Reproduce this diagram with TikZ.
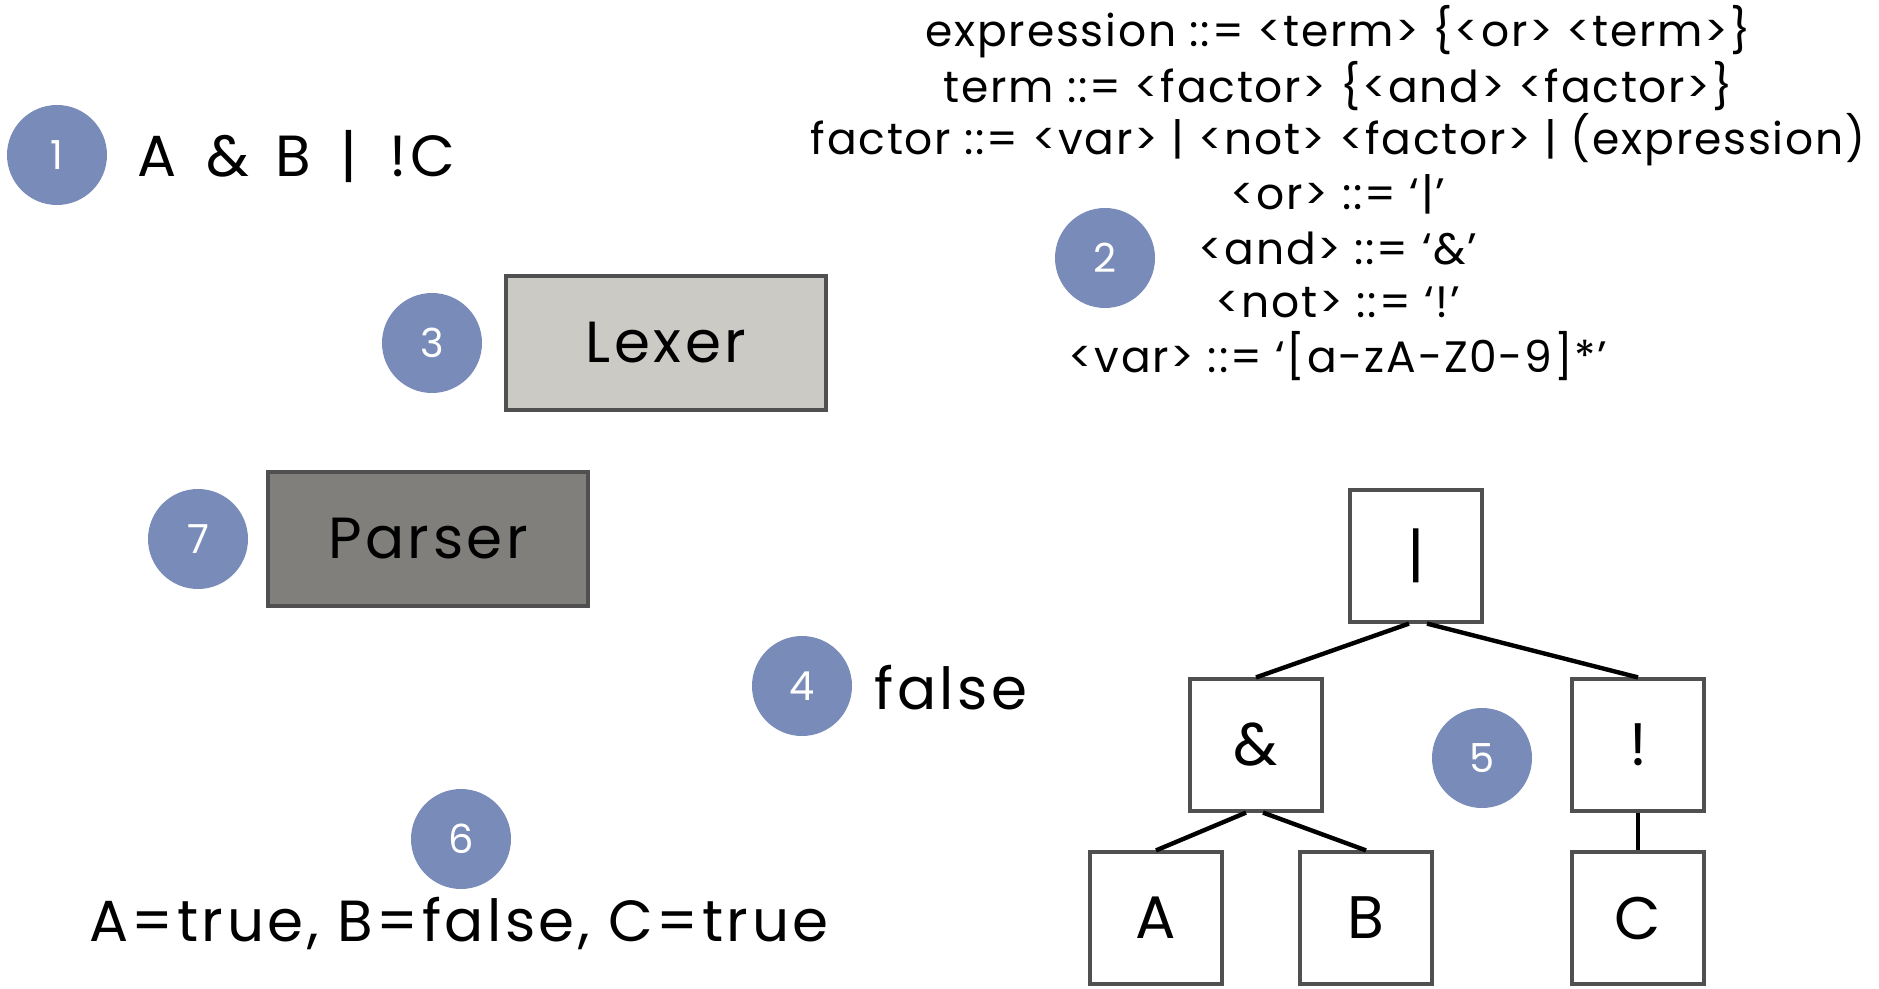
\documentclass[tikz,border=0pt]{standalone}
\usepackage{fontspec}
\setmainfont{Poppins}
\newfontfamily\handfont[LetterSpace=6]{Poppins}
\newfontfamily\bnffont[LetterSpace=4]{Poppins}
\definecolor{numblue}{RGB}{121,139,184}
\definecolor{boxedge}{RGB}{80,80,80}
\definecolor{lexfill}{RGB}{204,202,197}
\definecolor{parsefill}{RGB}{128,127,124}
\begin{document}
\begin{tikzpicture}[x=0.5pt,y=-0.5pt,
  num/.style={circle, fill=numblue, text=white, minimum size=50pt, inner sep=0pt, font=\fontsize{20}{20}\selectfont},
  bigtxt/.style={font=\handfont\fontsize{29}{30}\selectfont, inner sep=0pt},
  bnf/.style={font=\bnffont\fontsize{22}{24}\selectfont, inner sep=0pt},
  procbox/.style={draw=boxedge, line width=2pt, minimum width=160pt, minimum height=67pt, inner sep=0pt, font=\handfont\fontsize{29}{30}\selectfont},
  treebox/.style={draw=boxedge, line width=1.6pt, minimum width=66pt, minimum height=66pt, inner sep=0pt, font=\fontsize{30}{30}\selectfont},
  treeedge/.style={line width=2.2pt, black}]
\useasboundingbox (0,0) rectangle (1879,989);

% 1
\node[num] (n1) at (57,155) {1};
\node[bigtxt, anchor=west] (expr) at (137,157) {A\hspace{15pt}\&\hspace{13pt}B\hspace{15pt}|\hspace{16pt}!C};

% 2 grammar
\node[bnf] (g1) at (1338,32) {expression ::= <term> \{<or> <term>\}};
\node[bnf] (g2) at (1338,86) {term ::= <factor> \{<and> <factor>\}};
\node[bnf] (g3) at (1338,140) {factor ::= <var> | <not> <factor> | (expression)};
\node[bnf] (g4) at (1338,194) {<or> ::= ‘|’};
\node[bnf] (g5) at (1338,248) {<and> ::= ‘\&’};
\node[bnf] (g6) at (1338,302) {<not> ::= ‘!’};
\node[bnf] (g7) at (1338,356) {<var> ::= ‘[a-zA-Z0-9]*’};
\node[num] (n2) at (1105,258) {2};

% 3 lexer
\node[num] (n3) at (432,343) {3};
\node[procbox, fill=lexfill] (lexer) at (666,343) {Lexer};

% 7 parser
\node[num] (n7) at (198,539) {7};
\node[procbox, fill=parsefill] (parser) at (428,539) {Parser};

% 4 result
\node[num] (n4) at (802,686) {4};
\node[bigtxt] (res) at (951,688) {false};

% 6 assignment
\node[num] (n6) at (461,839) {6};
\node[bigtxt] (assign) at (459,923) {A=true, B=false, C=true};

% 5 tree
\node[treebox] (root) at (1416,556) {|};
\node[treebox] (andn) at (1256,745) {\&};
\node[treebox] (notn) at (1638,745) {!};
\node[treebox] (va) at (1156,918) {A};
\node[treebox] (vb) at (1366,918) {B};
\node[treebox] (vc) at (1638,918) {C};
\node[num] (n5) at (1482,758) {5};

\draw[treeedge] ([xshift=-3.5pt]root.south) -- (andn.north);
\draw[treeedge] ([xshift=5.5pt]root.south) -- (notn.north);
\draw[treeedge] ([xshift=-5pt]andn.south) -- (va.north);
\draw[treeedge] ([xshift=3.5pt]andn.south) -- (vb.north);
\draw[treeedge] (notn.south) -- (vc.north);
\end{tikzpicture}
\end{document}
